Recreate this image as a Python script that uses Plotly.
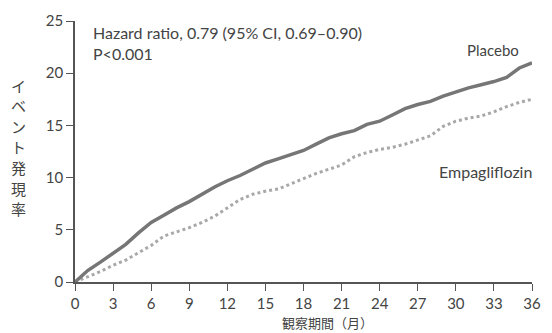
import plotly.graph_objects as go

months = list(range(0, 37))
placebo = [0, 1.1, 1.9, 2.7, 3.6, 4.7, 5.7, 6.4, 7.1, 7.7, 8.4, 9.1, 9.7, 10.2, 10.8,
           11.4, 11.8, 12.2, 12.6, 13.2, 13.8, 14.2, 14.5, 15.1, 15.4, 16.0, 16.6,
           17.0, 17.3, 17.8, 18.2, 18.6, 18.9, 19.2, 19.6, 20.5, 21.0]
empagliflozin = [0, 0.5, 1.0, 1.6, 2.1, 2.8, 3.5, 4.4, 4.8, 5.2, 5.7, 6.3, 7.1, 7.9,
                 8.4, 8.7, 8.9, 9.4, 9.9, 10.4, 10.8, 11.2, 12.0, 12.4, 12.7, 12.9,
                 13.2, 13.6, 14.0, 14.9, 15.4, 15.7, 15.9, 16.3, 16.8, 17.2, 17.5]
x_ticks = list(range(0, 37, 3))
y_ticks = [0, 5, 10, 15, 20, 25]
y_title = "イベント発現率"
x_title = "観察期間（月）"
hr_text = "Hazard ratio, 0.79 (95% CI, 0.69–0.90)<br>P<0.001"

FONT = "Lato, 'Noto Sans CJK JP', sans-serif"
CJK = "'Noto Sans CJK JP', sans-serif"

fig = go.Figure()
fig.add_trace(go.Scatter(x=months, y=empagliflozin, mode="lines",
                         line=dict(color="#a8a8a8", width=3, dash="dot"),
                         showlegend=False))
fig.add_trace(go.Scatter(x=months, y=placebo, mode="lines",
                         line=dict(color="#767676", width=3.5),
                         showlegend=False))

annotations = [
    dict(xref="paper", yref="paper", x=0.035, y=1.0, xanchor="left", yanchor="top",
         text=hr_text, showarrow=False, align="left",
         font=dict(size=16, color="#444")),
    dict(xref="paper", yref="paper", x=0.977, y=0.89, xanchor="right", yanchor="middle",
         text="Placebo", showarrow=False, font=dict(size=15, color="#444")),
    dict(xref="paper", yref="paper", x=1.004, y=0.424, xanchor="right", yanchor="middle",
         text="Empagliflozin", showarrow=False, font=dict(size=16, color="#444")),
    dict(xref="paper", yref="paper", x=0.553, y=-0.112, xanchor="center", yanchor="top",
         text=x_title, showarrow=False, font=dict(size=13, color="#444", family=CJK)),
]
# vertical y-axis title: one glyph per line, stacked top to bottom
plot_h = 333 - 18 - 51
for i, ch in enumerate(y_title):
    ypix = 83 + i * 20.8
    annotations.append(dict(xref="paper", yref="paper", x=-0.124,
                            y=(282 - ypix) / plot_h, xanchor="center", yanchor="middle",
                            text=ch, showarrow=False,
                            font=dict(size=15, color="#444", family=CJK)))

fig.update_layout(
    width=552, height=333,
    margin=dict(l=75, r=11, t=18, b=51),
    paper_bgcolor="white", plot_bgcolor="white",
    font=dict(family=FONT, color="#444", size=14),
    xaxis=dict(range=[0, 36], tickvals=x_ticks, showgrid=False, zeroline=False,
               showline=True, linecolor="#555", linewidth=1.5,
               ticks="outside", ticklen=7, tickcolor="#555", tickwidth=1.2,
               tickfont=dict(size=15, color="#444")),
    yaxis=dict(range=[0, 25], tickvals=y_ticks, showgrid=False, zeroline=False,
               showline=True, linecolor="#555", linewidth=1.5,
               ticks="outside", ticklen=7, tickcolor="#555", tickwidth=1.2,
               tickfont=dict(size=15, color="#444")),
    annotations=annotations,
)

fig.write_html("out.html")
